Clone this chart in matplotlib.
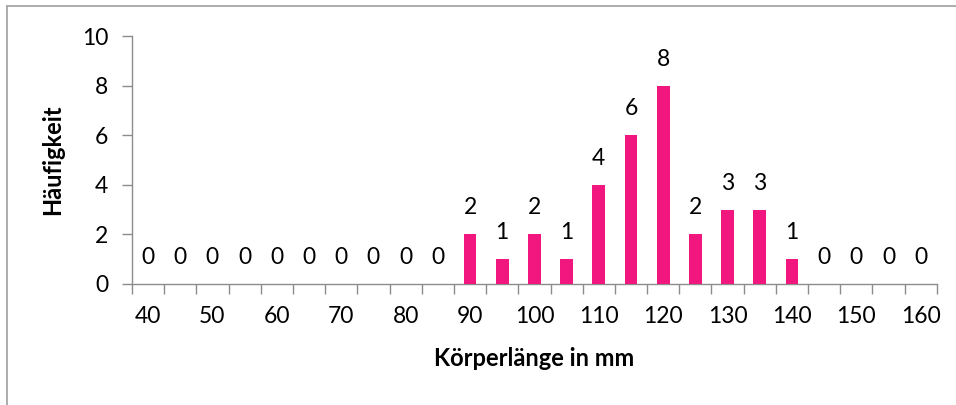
import matplotlib
matplotlib.use("Agg")
import matplotlib.pyplot as plt
from matplotlib.lines import Line2D
import numpy as np

# Body length classes (mm) and their frequencies
lengths = [40, 45, 50, 55, 60, 65, 70, 75, 80, 85, 90, 95, 100, 105, 110,
           115, 120, 125, 130, 135, 140, 145, 150, 155, 160]
counts = [0, 0, 0, 0, 0, 0, 0, 0, 0, 0, 2, 1, 2, 1, 4,
          6, 8, 2, 3, 3, 1, 0, 0, 0, 0]
y_ticks = [0, 2, 4, 6, 8, 10]

plt.rcParams['font.family'] = ['Lato', 'DejaVu Sans']

bar_color = '#F2177E'
axis_color = '#8C8C8C'
fs = 16.5

fig = plt.figure(figsize=(9.56, 4.05), dpi=100)
ax = fig.add_axes([0.138, 0.299, 0.842, 0.612])

x = np.arange(len(lengths))
bars = ax.bar(x, counts, width=0.4, color=bar_color, zorder=3)

for xi, c in zip(x, counts):
    ax.annotate(str(c), (xi, c), xytext=(0, 11.5), textcoords='offset points',
                ha='center', va='bottom', fontsize=fs, color='black')

ax.set_xlim(-0.5, len(lengths) - 0.5)
ax.set_ylim(0, 10)

# tick marks on category boundaries, labels on every other category
ax.set_xticks(np.arange(-0.5, len(lengths), 1.0))
ax.set_xticklabels([])
ax.set_xticks(x[::2], minor=True)
ax.set_xticklabels([str(v) for v in lengths[::2]], minor=True)
ax.tick_params(axis='x', which='major', length=7, width=1, color=axis_color)
ax.tick_params(axis='x', which='minor', length=0, pad=16, labelsize=fs)

ax.set_yticks(y_ticks)
ax.set_yticklabels([str(v) for v in y_ticks])
ax.tick_params(axis='y', length=7, width=1, color=axis_color, labelsize=fs, pad=10)

for side in ('top', 'right'):
    ax.spines[side].set_visible(False)
for side in ('left', 'bottom'):
    ax.spines[side].set_color(axis_color)
    ax.spines[side].set_linewidth(1)

ax.set_xlabel('Körperlänge in mm', fontsize=17, fontweight='bold', labelpad=14)
ax.set_ylabel('Häufigkeit', fontsize=17, fontweight='bold', labelpad=13)

# chart frame edges
W, H = 956, 405
fig.add_artist(Line2D([7 / W, 1.0], [1 - 6 / H, 1 - 6 / H], color='#A6A6A6', lw=1.3,
                      transform=fig.transFigure))
fig.add_artist(Line2D([7 / W, 7 / W], [0.0, 1 - 6 / H], color='#A6A6A6', lw=1.3,
                      transform=fig.transFigure))

fig.savefig('out.png', dpi=100)
